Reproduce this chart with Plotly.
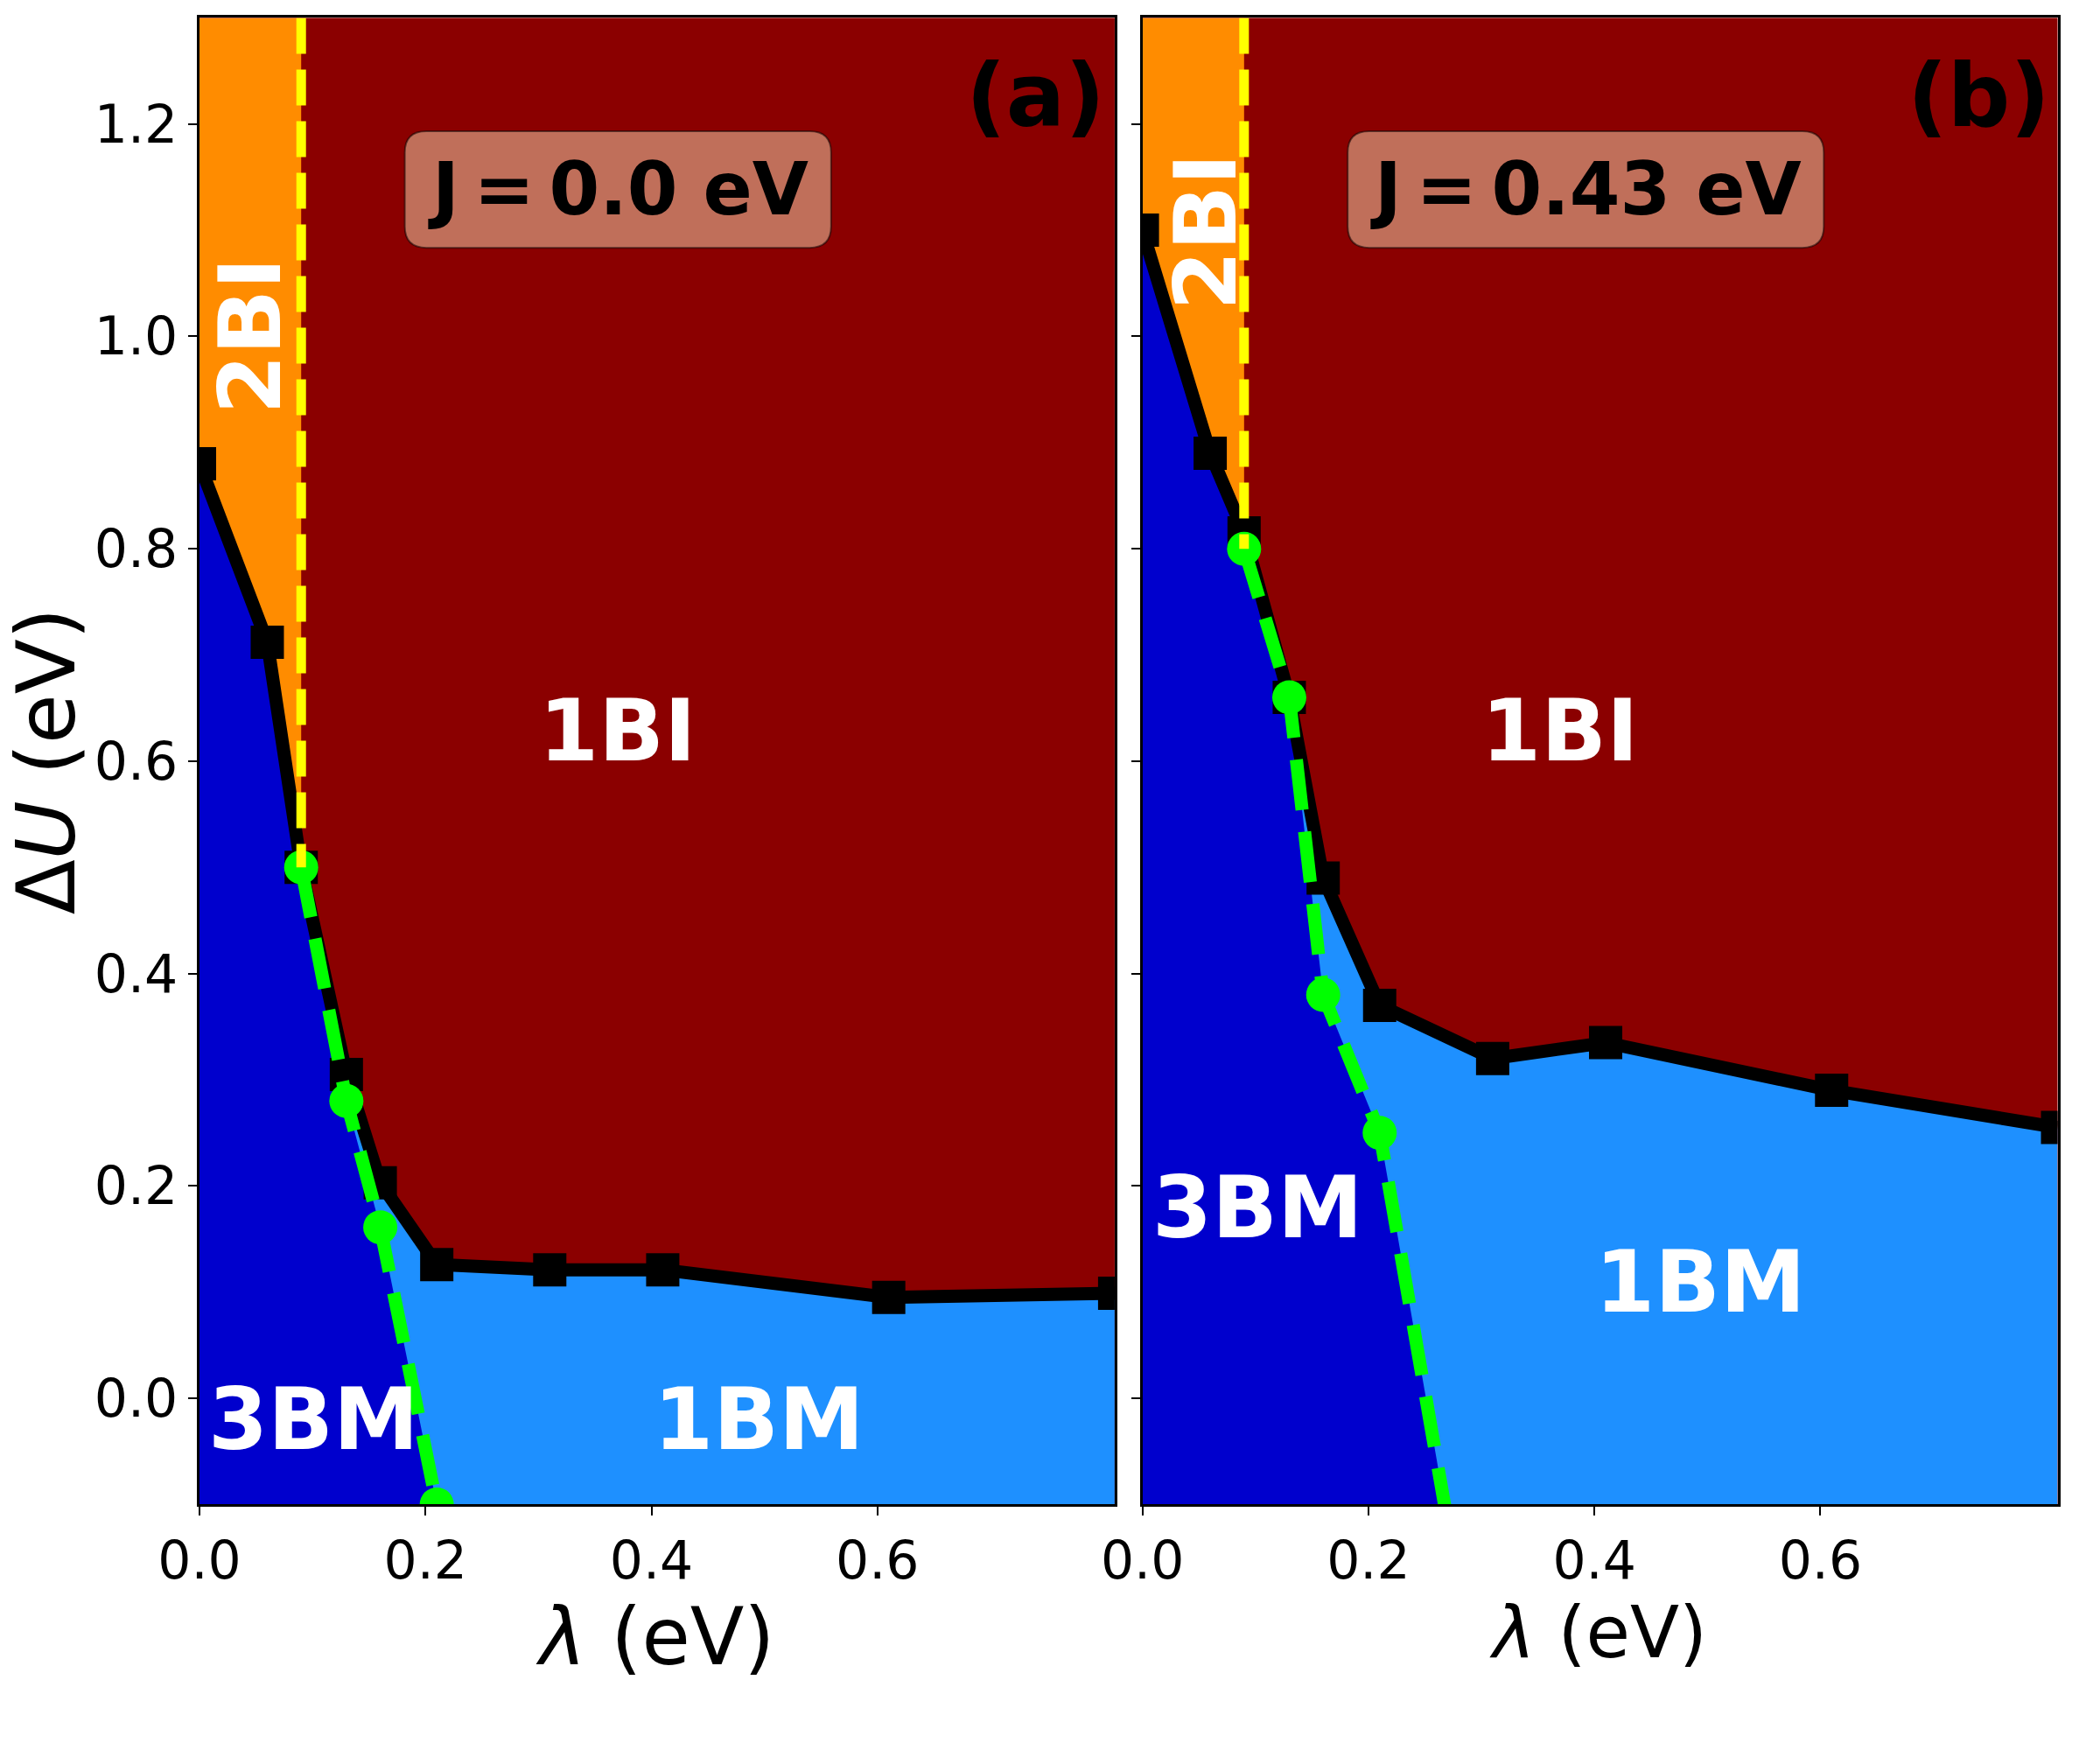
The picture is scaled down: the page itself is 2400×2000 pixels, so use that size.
import plotly.graph_objects as go

# phase boundaries
lam = [0.0, 0.06, 0.09, 0.13, 0.16, 0.21, 0.31, 0.41, 0.61, 0.81]

bi_a = [0.88, 0.712, 0.50, 0.305, 0.203, 0.126, 0.121, 0.121, 0.095, 0.099]
bi_b = [1.10, 0.89, 0.815, 0.66, 0.49, 0.37, 0.32, 0.335, 0.29, 0.255]

bm_a_x = [0.09, 0.13, 0.16, 0.21]
bm_a_y = [0.50, 0.28, 0.161, -0.10]
bm_b_x = [0.09, 0.13, 0.16, 0.21, 0.31]
bm_b_y = [0.80, 0.66, 0.38, 0.25, -0.36]

lam_2bi = 0.09          # vertical 2BI / 1BI border
y_lo, y_hi = -0.1, 1.3
x_hi = 0.81

xticks = [0.0, 0.2, 0.4, 0.6]
yticks = [0.0, 0.2, 0.4, 0.6, 0.8, 1.0, 1.2]

panels = [
    dict(xa='x', ya='y', bi=bi_a, gx=bm_a_x, gy=bm_a_y, tag='(a)', J='0.0',
         box=(0.1817, 0.559), lbl={'1BI': (0.37, 0.629), '2BI': (0.045, 1.0),
                                   '3BM': (0.101, -0.02), '1BM': (0.495, -0.02)}),
    dict(xa='x2', ya='y2', bi=bi_b, gx=bm_b_x, gy=bm_b_y, tag='(b)', J='0.43',
         box=(0.1817, 0.6031), lbl={'1BI': (0.369, 0.629), '2BI': (0.0554, 1.098),
                                    '3BM': (0.102, 0.18), '1BM': (0.494, 0.11)}),
]
box_y = (1.0835, 1.1932)

FONT = 'DejaVu Sans, Verdana, sans-serif'
fig = go.Figure()
annotations = []
shapes = []


def round_box(x0, x1, y0, y1, rx=0.019, ry=0.02):
    return ('M {a},{y0} L {b},{y0} Q {x1},{y0} {x1},{c} L {x1},{d} Q {x1},{y1} {b},{y1} '
            'L {a},{y1} Q {x0},{y1} {x0},{d} L {x0},{c} Q {x0},{y0} {a},{y0} Z').format(
        a=x0 + rx, b=x1 - rx, c=y0 + ry, d=y1 - ry, x0=x0, x1=x1, y0=y0, y1=y1)


for p in panels:
    n2 = lam.index(lam_2bi)
    # 1BM (light blue) under the whole boundary
    fig.add_trace(go.Scatter(
        x=lam + [lam[-1], lam[0]], y=p['bi'] + [y_lo, y_lo],
        fill='toself', fillcolor='#1E90FF', mode='lines', line=dict(width=0),
        xaxis=p['xa'], yaxis=p['ya'], hoverinfo='skip', showlegend=False))
    # 2BI (orange)
    ox = [lam[0], lam_2bi] + lam[:n2 + 1][::-1]
    oy = [y_hi, y_hi] + p['bi'][:n2 + 1][::-1]
    fig.add_trace(go.Scatter(
        x=ox, y=oy, fill='toself', fillcolor='#FF8C00', mode='lines', line=dict(width=0),
        xaxis=p['xa'], yaxis=p['ya'], hoverinfo='skip', showlegend=False))
    # 3BM (dark blue)
    bottom = min(y_lo, p['gy'][-1])
    bx = lam[:n2 + 1] + p['gx'] + [lam[0]]
    by = p['bi'][:n2 + 1] + p['gy'] + [bottom]
    fig.add_trace(go.Scatter(
        x=bx, y=by, fill='toself', fillcolor='#0000CD', mode='lines', line=dict(width=0),
        xaxis=p['xa'], yaxis=p['ya'], hoverinfo='skip', showlegend=False))
    # black boundary
    fig.add_trace(go.Scatter(
        x=lam, y=p['bi'], mode='lines+markers',
        line=dict(color='black', width=15),
        marker=dict(symbol='square', size=38, color='black'),
        xaxis=p['xa'], yaxis=p['ya'], showlegend=False))
    # green dashed boundary
    fig.add_trace(go.Scatter(
        x=p['gx'], y=p['gy'], mode='lines+markers',
        line=dict(color='#00FF00', width=15, dash='58px,25px'),
        marker=dict(symbol='circle', size=39, color='#00FF00'),
        xaxis=p['xa'], yaxis=p['ya'], showlegend=False))
    # yellow dashed vertical
    fig.add_trace(go.Scatter(
        x=[lam_2bi, lam_2bi], y=[y_hi, p['gy'][0]], mode='lines',
        line=dict(color='#FFFF00', width=11, dash='41px,18px'),
        xaxis=p['xa'], yaxis=p['ya'], showlegend=False))

    for name, (tx, ty) in p['lbl'].items():
        annotations.append(dict(
            x=tx, y=ty, xref=p['xa'], yref=p['ya'], text='<b>%s</b>' % name,
            showarrow=False, textangle=-90 if name == '2BI' else 0,
            font=dict(family=FONT, size=98, color='white')))
    annotations.append(dict(
        x=0.74, y=1.2265, xref=p['xa'], yref=p['ya'], text='<b>%s</b>' % p['tag'],
        showarrow=False, font=dict(family=FONT, size=100, color='black')))

    bx0, bx1 = p['box']
    shapes.append(dict(
        type='path', xref=p['xa'], yref=p['ya'], layer='above',
        path=round_box(bx0, bx1, box_y[0], box_y[1]),
        fillcolor='rgba(245,222,179,0.5)', line=dict(color='rgba(0,0,0,0.5)', width=2)))
    annotations.append(dict(
        x=(bx0 + bx1) / 2, y=sum(box_y) / 2, xref=p['xa'], yref=p['ya'],
        text='<b>J\u2009=\u2009%s eV</b>' % p['J'],
        showarrow=False, font=dict(family=FONT, size=83, color='black')))

axis_common = dict(
    showline=True, mirror=True, linecolor='black', linewidth=2.5,
    ticks='outside', ticklen=10, tickwidth=2, tickcolor='black',
    showgrid=False, zeroline=False, automargin=False,
    tickfont=dict(family=FONT, size=60, color='black'),
)

fig.update_layout(
    width=2400, height=2000,
    margin=dict(l=0, r=0, t=0, b=0),
    paper_bgcolor='white', plot_bgcolor='#8B0000',
    annotations=annotations, shapes=shapes,
    xaxis=dict(axis_common, domain=[0.095, 0.5308], range=[0, x_hi], anchor='y',
               tickvals=xticks, tickformat='.1f',
               title=dict(text='<i>λ</i> (eV)', standoff=0,
                          font=dict(family=FONT, size=90, color='black'))),
    yaxis=dict(axis_common, domain=[0.1403, 0.9898], range=[y_lo, y_hi], anchor='x',
               tickvals=yticks, tickformat='.1f',
               title=dict(text='Δ<i>U</i> (eV)', standoff=18,
                          font=dict(family=FONT, size=92, color='black'))),
    xaxis2=dict(axis_common, domain=[0.544, 0.9798], range=[0, x_hi], anchor='y2',
                tickvals=xticks, tickformat='.1f',
                title=dict(text='<i>λ</i> (eV)', standoff=0,
                           font=dict(family=FONT, size=82, color='black'))),
    yaxis2=dict(axis_common, domain=[0.1403, 0.9898], range=[y_lo, y_hi], anchor='x2',
                tickvals=yticks, showticklabels=False),
)

fig.write_html("out.html", config={'displayModeBar': False},
               post_script="document.body.style.margin='0';")
